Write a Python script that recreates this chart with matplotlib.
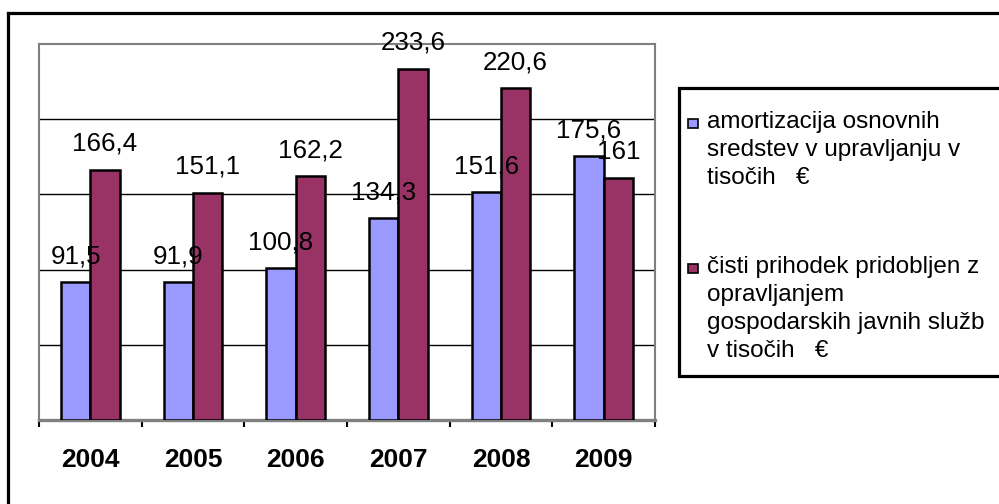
import matplotlib
matplotlib.use("Agg")
import matplotlib.pyplot as plt
from matplotlib.patches import Rectangle
from matplotlib.lines import Line2D
import numpy as np

plt.rcParams['font.family'] = ['Liberation Sans', 'DejaVu Sans']

years = ["2004", "2005", "2006", "2007", "2008", "2009"]
amortizacija = [91.5, 91.9, 100.8, 134.3, 151.6, 175.6]
prihodek = [166.4, 151.1, 162.2, 233.6, 220.6, 161]
series_labels = [
    "amortizacija osnovnih\nsredstev v upravljanju v\ntisočih   €",
    "čisti prihodek pridobljen z\nopravljanjem\ngospodarskih javnih služb\nv tisočih   €",
]
colors = ["#9999FF", "#993366"]

W, H = 999, 504
fig = plt.figure(figsize=(W / 100, H / 100), dpi=100)

def fx(px):
    return px / W

def fy(py):
    return 1 - py / H

# plot area
L, R, T, B = 39, 655, 44, 420
ax = fig.add_axes([fx(L), fy(B), fx(R) - fx(L), fy(T) - fy(B)])

x = np.arange(len(years))
bw = 1 / 3.5
series = [amortizacija, prihodek]
for i, (vals, col) in enumerate(zip(series, colors)):
    off = (i - 0.5) * bw
    ax.bar(x + off, vals, width=bw, color=col, edgecolor="black", linewidth=1.8, zorder=3)
    for xi, v in zip(x, vals):
        txt = f"{v:g}".replace(".", ",")
        ax.annotate(txt, xy=(xi + off, v), xytext=(0, 13.5), textcoords="offset points",
                    ha="center", va="baseline", fontsize=18.7, zorder=5)

ax.set_xlim(-0.5, len(years) - 0.5)
ax.set_ylim(0, 250)
ax.set_yticks([50, 100, 150, 200])
ax.yaxis.grid(True, color="black", linewidth=1.0)
ax.set_axisbelow(True)
ax.tick_params(axis="y", left=False, labelleft=False)

ax.set_xticks(np.arange(-0.5, len(years)), minor=False)
ax.set_xticklabels([])
ax.tick_params(axis="x", which="major", direction="out", length=5, width=1.5, color="black")
ax.set_xticks(x, minor=True)
ax.set_xticklabels(years, minor=True, fontsize=19, fontweight="bold")
ax.tick_params(axis="x", which="minor", length=0, pad=20)

for s in ["left", "top", "right"]:
    ax.spines[s].set_color("#808080")
    ax.spines[s].set_linewidth(1.5)
ax.spines["bottom"].set_color("#808080")
ax.spines["bottom"].set_linewidth(2.4)

# outer frame (extends beyond right and bottom)
fig.add_artist(Line2D([fx(8), fx(8)], [fy(13), fy(H + 5)], color="black", linewidth=2.3))
fig.add_artist(Line2D([fx(8), fx(W + 5)], [fy(13), fy(13)], color="black", linewidth=2.3))

# legend frame
lx0, ly0, ly1 = 679, 88, 376
fig.add_artist(Rectangle((fx(lx0), fy(ly1)), fx(W + 20) - fx(lx0), fy(ly0) - fy(ly1),
                         facecolor="white", edgecolor="black", linewidth=2.3,
                         transform=fig.transFigure))

entry_baselines = [128, 273]
for lab, col, bl in zip(series_labels, colors, entry_baselines):
    fig.add_artist(Rectangle((fx(688), fy(bl)), fx(10), 9 / H, facecolor=col,
                             edgecolor="black", linewidth=1.2, transform=fig.transFigure))
    lines = lab.split("\n")
    for k, ln in enumerate(lines):
        fig.text(fx(707), fy(bl + k * 28), ln, fontsize=17.5, ha="left", va="baseline")

fig.savefig("out.png", dpi=100)
